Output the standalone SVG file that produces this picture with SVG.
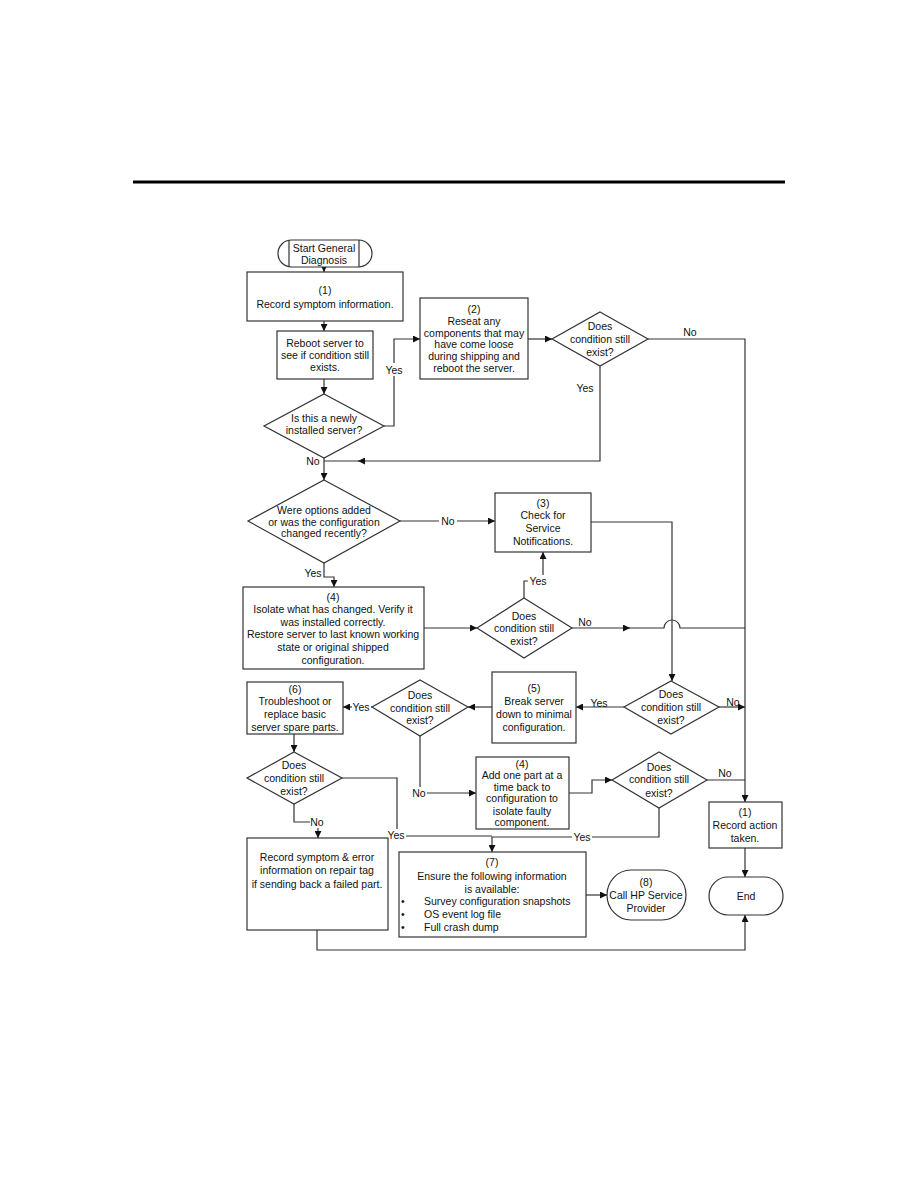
<svg xmlns="http://www.w3.org/2000/svg" width="918" height="1188" viewBox="0 0 918 1188">
<defs>
<marker id="ah" viewBox="0 0 10 10" refX="10" refY="5" markerWidth="8" markerHeight="7" markerUnits="userSpaceOnUse" orient="auto">
<path d="M0,0 L10,5 L0,10 z" fill="#111"/>
</marker>
<style>
.s{fill:#fff;stroke:#333;stroke-width:1.2}
.c{fill:none;stroke:#333;stroke-width:1.2}
.a{fill:none;stroke:#333;stroke-width:1.2;marker-end:url(#ah)}
text{font-family:"Liberation Sans",Arial,sans-serif;font-size:10.5px;fill:#111}
.m{text-anchor:middle}
.lb{fill:#fff;stroke:none}
</style>
</defs>
<rect width="918" height="1188" fill="#fff"/>
<line x1="133" y1="182" x2="785" y2="182" stroke="#000" stroke-width="3"/>

<g id="connectors">
<path class="a" d="M324,267 V272"/>
<path class="a" d="M324,321 V331"/>
<path class="a" d="M324,379 V394"/>
<path class="a" d="M384,426 H394 V339 H420"/>
<path class="a" d="M528,339 H552"/>
<path class="a" d="M648,339 H745 V802"/>
<path class="a" d="M600,366 V461 H358"/>
<path class="c" d="M360,461 H324"/>
<path class="a" d="M324,458 V480"/>
<path class="a" d="M400,521 H495"/>
<path class="a" d="M324,563 V577 H334 V587"/>
<path class="a" d="M424,628 H477"/>
<path class="a" d="M524,598 V581 H543 V552"/>
<path class="a" d="M572,628 H630"/>
<path class="c" d="M628,628 H664 A8,8 0 0 1 680,628 H745"/>
<path class="a" d="M591,522 H672 V681"/>
<path class="a" d="M719,707 H745"/>
<path class="a" d="M624,707 H576"/>
<path class="a" d="M492,707 H468"/>
<path class="a" d="M372,707 H343"/>
<path class="a" d="M294,734 V752"/>
<path class="a" d="M420,736 V793 H476"/>
<path class="a" d="M569,793 H592 V780 H612"/>
<path class="c" d="M707,780 H745"/>
<path class="a" d="M659,808 V837 H492 V852"/>
<path class="a" d="M294,804 V822 H318 V838"/>
<path class="c" d="M342,778 H397 V836 H492"/>
<path class="a" d="M586,895 H607"/>
<path class="a" d="M745,848 V877"/>
<path class="a" d="M317,930 V950 H745 V915"/>
</g>

<g id="labels">
<rect class="lb" x="385" y="363" width="19" height="13"/>
<text class="m" x="394" y="374">Yes</text>
<text class="m" x="690" y="336">No</text>
<text class="m" x="585" y="392">Yes</text>
<text class="m" x="313" y="465">No</text>
<rect class="lb" x="439" y="515" width="18" height="12"/>
<text class="m" x="448" y="525">No</text>
<text class="m" x="313" y="577">Yes</text>
<rect class="lb" x="528" y="575" width="20" height="12"/>
<text class="m" x="538" y="585">Yes</text>
<text class="m" x="585" y="626">No</text>
<text class="m" x="733" y="706">No</text>
<text class="m" x="599" y="707">Yes</text>
<rect class="lb" x="352" y="701" width="19" height="12"/>
<text class="m" x="361" y="711">Yes</text>
<rect class="lb" x="411" y="787" width="16" height="12"/>
<text class="m" x="419" y="797">No</text>
<text class="m" x="725" y="777">No</text>
<rect class="lb" x="572" y="831" width="20" height="12"/>
<text class="m" x="582" y="841">Yes</text>
<rect class="lb" x="310" y="816" width="15" height="12"/>
<text class="m" x="317" y="826">No</text>
<rect class="lb" x="386" y="829" width="20" height="12"/>
<text class="m" x="396" y="839">Yes</text>
</g>

<g id="start">
<path class="s" d="M291.5,240 H358.5 A13.5,13.5 0 0 1 358.5,267 H291.5 A13.5,13.5 0 0 1 291.5,240 z"/>
<line class="c" x1="289" y1="240" x2="289" y2="267"/>
<line class="c" x1="359" y1="240" x2="359" y2="267"/>
<text class="m" x="324" y="252">Start General</text>
<text class="m" x="324" y="264">Diagnosis</text>
</g>

<g id="box1">
<rect class="s" x="247" y="272" width="156" height="49"/>
<text class="m" x="325" y="294">(1)</text>
<text class="m" x="325" y="308">Record symptom information.</text>
</g>

<g id="reboot">
<rect class="s" x="277" y="331" width="96" height="48"/>
<text class="m" x="325" y="347">Reboot server to</text>
<text class="m" x="325" y="359">see if condition still</text>
<text class="m" x="325" y="371">exists.</text>
</g>

<g id="dia1">
<path class="s" d="M324,394 L384,426 L324,458 L264,426 z"/>
<text class="m" x="324" y="422">Is this a newly</text>
<text class="m" x="324" y="434">installed server?</text>
</g>

<g id="box2">
<rect class="s" x="420" y="298" width="108" height="81"/>
<text class="m" x="474" y="313">(2)</text>
<text class="m" x="474" y="325">Reseat any</text>
<text class="m" x="474" y="337">components that may</text>
<text class="m" x="474" y="348">have come loose</text>
<text class="m" x="474" y="360">during shipping and</text>
<text class="m" x="474" y="372">reboot the server.</text>
</g>

<g id="dia2">
<path class="s" d="M600,312 L648,339 L600,366 L552,339 z"/>
<text class="m" x="600" y="330">Does</text>
<text class="m" x="600" y="343">condition still</text>
<text class="m" x="600" y="356">exist?</text>
</g>

<g id="dia3">
<path class="s" d="M324,480 L400,521 L324,563 L248,521 z"/>
<text class="m" x="324" y="514">Were options added</text>
<text class="m" x="324" y="526">or was the configuration</text>
<text class="m" x="324" y="537">changed recently?</text>
</g>

<g id="box3">
<rect class="s" x="495" y="493" width="96" height="59"/>
<text class="m" x="543" y="507">(3)</text>
<text class="m" x="543" y="519" fill="#1a1a4a">Check for</text>
<text class="m" x="543" y="532" fill="#1a1a4a">Service</text>
<text class="m" x="543" y="545" fill="#1a1a4a">Notifications.</text>
</g>

<g id="box4">
<rect class="s" x="243" y="587" width="181" height="82"/>
<text class="m" x="333" y="601">(4)</text>
<text class="m" x="333" y="613">Isolate what has changed. Verify it</text>
<text class="m" x="333" y="626">was installed correctly.</text>
<text class="m" x="333" y="638">Restore server to last known working</text>
<text class="m" x="333" y="651">state or original shipped</text>
<text class="m" x="333" y="664">configuration.</text>
</g>

<g id="dia4">
<path class="s" d="M524,598 L572,628 L524,658 L477,628 z"/>
<text class="m" x="524" y="620">Does</text>
<text class="m" x="524" y="632">condition still</text>
<text class="m" x="524" y="645">exist?</text>
</g>

<g id="dia5">
<path class="s" d="M671,681 L719,707 L671,734 L624,707 z"/>
<text class="m" x="671" y="698">Does</text>
<text class="m" x="671" y="711">condition still</text>
<text class="m" x="671" y="724">exist?</text>
</g>

<g id="box5">
<rect class="s" x="492" y="672" width="84" height="71"/>
<text class="m" x="534" y="692">(5)</text>
<text class="m" x="534" y="705">Break server</text>
<text class="m" x="534" y="718">down to minimal</text>
<text class="m" x="534" y="731">configuration.</text>
</g>

<g id="dia6">
<path class="s" d="M420,680 L468,707 L420,736 L372,707 z"/>
<text class="m" x="420" y="699">Does</text>
<text class="m" x="420" y="712">condition still</text>
<text class="m" x="420" y="724">exist?</text>
</g>

<g id="box6">
<rect class="s" x="247" y="682" width="96" height="52"/>
<text class="m" x="295" y="693">(6)</text>
<text class="m" x="295" y="705">Troubleshoot or</text>
<text class="m" x="295" y="718">replace basic</text>
<text class="m" x="295" y="731">server spare parts.</text>
</g>

<g id="dia7">
<path class="s" d="M294,752 L342,778 L294,804 L247,778 z"/>
<text class="m" x="294" y="769">Does</text>
<text class="m" x="294" y="782">condition still</text>
<text class="m" x="294" y="795">exist?</text>
</g>

<g id="box4b">
<rect class="s" x="476" y="757" width="93" height="72"/>
<text class="m" x="522" y="768">(4)</text>
<text class="m" x="522" y="779">Add one part at a</text>
<text class="m" x="522" y="791">time back to</text>
<text class="m" x="522" y="802">configuration to</text>
<text class="m" x="522" y="815">isolate faulty</text>
<text class="m" x="522" y="826">component.</text>
</g>

<g id="dia8">
<path class="s" d="M659,752 L707,780 L659,808 L612,780 z"/>
<text class="m" x="659" y="771">Does</text>
<text class="m" x="659" y="783">condition still</text>
<text class="m" x="659" y="797">exist?</text>
</g>

<g id="box1r">
<rect class="s" x="709" y="802" width="73" height="46"/>
<text class="m" x="745" y="816">(1)</text>
<text class="m" x="745" y="829">Record action</text>
<text class="m" x="745" y="842">taken.</text>
</g>

<g id="end">
<path class="s" d="M728,877 H764 A19,19 0 0 1 764,915 H728 A19,19 0 0 1 728,877 z"/>
<text class="m" x="746" y="900">End</text>
</g>

<g id="recsym">
<rect class="s" x="247" y="838" width="141" height="92"/>
<text class="m" x="317" y="861">Record symptom &amp; error</text>
<text class="m" x="317" y="874">information on repair tag</text>
<text class="m" x="317" y="888">if sending back a failed part.</text>
</g>

<g id="box7">
<rect class="s" x="399" y="852" width="187" height="85"/>
<text class="m" x="492" y="866">(7)</text>
<text class="m" x="492" y="880">Ensure the following information</text>
<text class="m" x="492" y="893">is available:</text>
<text x="401" y="905">•</text>
<text x="424" y="905">Survey configuration snapshots</text>
<text x="401" y="918">•</text>
<text x="424" y="918">OS event log file</text>
<text x="401" y="931">•</text>
<text x="424" y="931">Full crash dump</text>
</g>

<g id="box8">
<path class="s" d="M631,870 H662 A24,25 0 0 1 662,920 H631 A24,25 0 0 1 631,870 z"/>
<text class="m" x="646" y="886">(8)</text>
<text class="m" x="646" y="899">Call HP Service</text>
<text class="m" x="646" y="912">Provider</text>
</g>
</svg>
